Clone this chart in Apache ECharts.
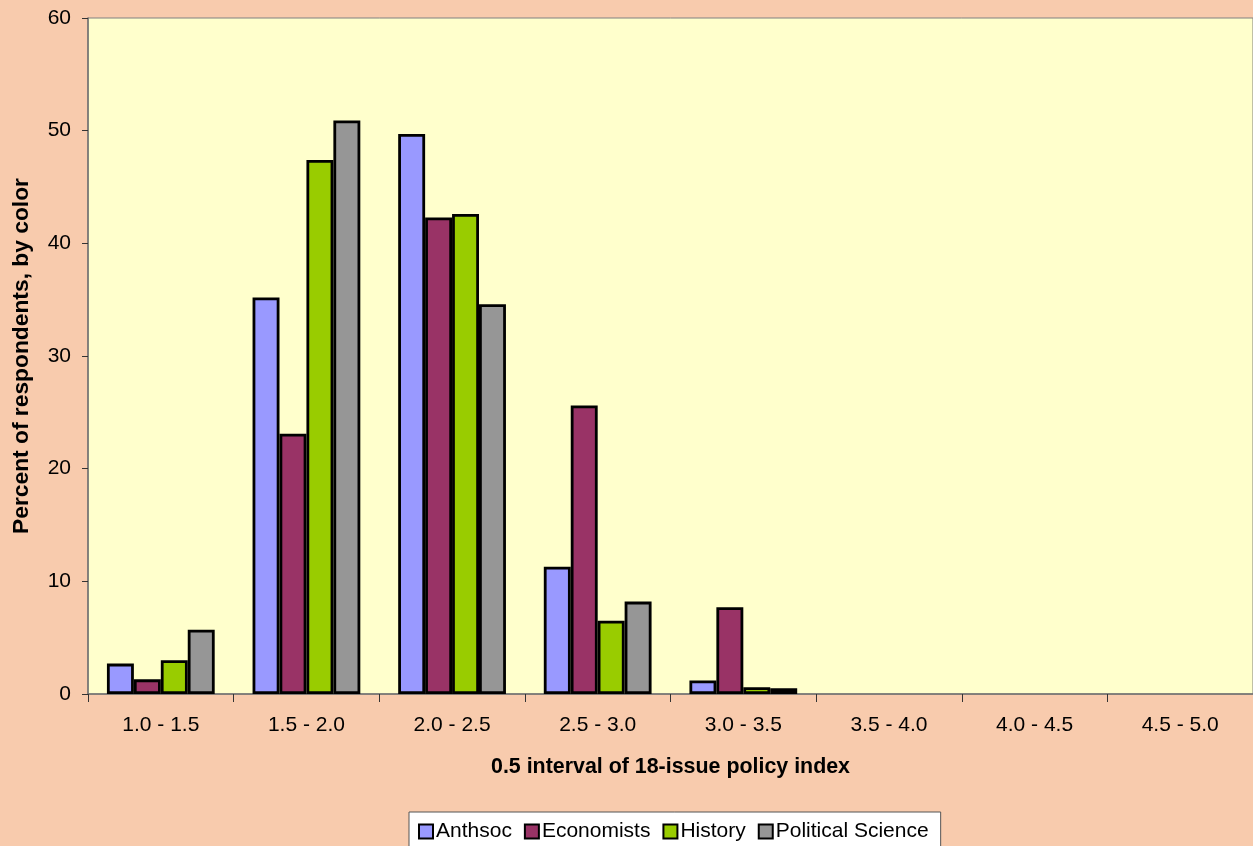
<!DOCTYPE html>
<html><head><meta charset="utf-8">
<script src="https://cdn.jsdelivr.net/npm/echarts@6/dist/echarts.min.js"></script>
<style>html,body{margin:0;padding:0;background:#F8CBAD;}#c{width:1253px;height:846px;}</style>
</head><body><div id="c"></div>
<script>
const categories = ['1.0 - 1.5','1.5 - 2.0','2.0 - 2.5','2.5 - 3.0','3.0 - 3.5','3.5 - 4.0','4.0 - 4.5','4.5 - 5.0'];
const anthsoc = [2.7, 35.2, 49.7, 11.3, 1.2, 0, 0, 0];
const economists = [1.3, 23.1, 42.3, 25.6, 7.7, 0, 0, 0];
const history = [3.0, 47.4, 42.6, 6.5, 0.6, 0, 0, 0];
const polsci = [5.7, 50.9, 34.6, 8.2, 0.5, 0, 0, 0];
const yTicks = {min: 0, max: 60, interval: 10};

const chart = echarts.init(document.getElementById('c'));
const font = 'Liberation Sans, Arial, sans-serif';
function s(name, data, color) {
  return {name, type:'bar',
    data: data.map(v => v === 0 ? {value:v, itemStyle:{borderWidth:0}} : v),
    barGap:'0%', barCategoryGap:'26%',
    itemStyle:{color, borderColor:'#000', borderWidth:2.8}, emphasis:{disabled:true}};
}
chart.setOption({
  backgroundColor:'#F8CBAD',
  animation:false,
  textStyle:{fontFamily:font},
  grid:{left:88, right:0, top:18, bottom:152, show:true, backgroundColor:'#FFFFCC', borderColor:'#808080', borderWidth:1, containLabel:false},
  legend:{top:812, left:409, backgroundColor:'#fff', borderColor:'#555', borderWidth:1,
    padding:[9,12,10,9], itemGap:12, itemWidth:14, itemHeight:14, icon:'rect',
    textStyle:{fontSize:21, color:'#000', fontFamily:font, padding:[0,0,0,-2]},
    data:['Anthsoc','Economists','History','Political Science']},
  xAxis:{type:'category', data:categories,
    axisLine:{lineStyle:{color:'#707070', width:1.5}},
    axisTick:{show:true, length:8, alignWithLabel:false, lineStyle:{color:'#333'}},
    axisLabel:{fontSize:21, color:'#000', margin:21, fontFamily:font},
    name:'0.5 interval of 18-issue policy index', nameLocation:'middle', nameGap:63,
    nameTextStyle:{fontSize:21.4, fontWeight:'bold', color:'#000', fontFamily:font}},
  yAxis:{type:'value', min:yTicks.min, max:yTicks.max, interval:yTicks.interval,
    splitLine:{show:false},
    axisLine:{show:true, lineStyle:{color:'#707070', width:1.5}},
    axisTick:{show:true, length:6, lineStyle:{color:'#333'}},
    axisLabel:{fontSize:21, color:'#000', margin:17, fontFamily:font},
    name:'Percent of respondents, by color', nameLocation:'middle', nameGap:55,
    nameTextStyle:{fontSize:22.8, fontWeight:'bold', color:'#000', fontFamily:font}},
  series:[s('Anthsoc', anthsoc, '#9999FF'), s('Economists', economists, '#993366'),
          s('History', history, '#99CC00'), s('Political Science', polsci, '#969696')]
});
</script></body></html>
